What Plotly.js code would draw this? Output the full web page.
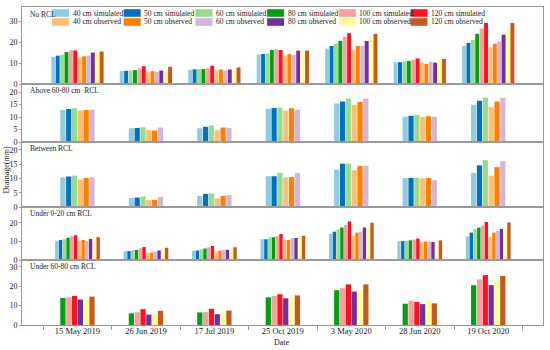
<!DOCTYPE html>
<html><head><meta charset="utf-8">
<script src="https://cdn.plot.ly/plotly-3.0.1.min.js"></script>
<style>html,body{margin:0;padding:0;background:#fff}#chart{width:550px;height:350px}</style>
</head><body><div id="chart"></div>
<script>
// ---------- data ----------
const dates = ['15 May 2019','26 Jun 2019','17 Jul 2019','25 Oct 2019','3 May 2020','28 Jun 2020','19 Oct 2020'];
const seriesNames = ['40 cm simulated','50 cm simulated','60 cm simulated','80 cm simulated','100 cm simulated','120 cm simulated',
                     '40 cm observed','50 cm observed','60 cm observed','80 cm observed','100 cm observed','120 cm observed'];
const seriesColors = ['#8FCBE3','#0070C0','#98DB8C','#00A015','#FF9C9C','#FF1020',
                      '#FFBE73','#FF8000','#D3B4DC','#7030A0','#FFFF99','#C65A1C'];
const panelLabels = ['No RCL','Above 60-80 cm  RCL','Between RCL','Under 0-20 cm RCL','Under 60-80 cm RCL'];

// No RCL
const noRCL_40sim  = [13.0, 6.2, 6.8, 14.0, 16.8, 10.3, 18.1];
const noRCL_50sim  = [13.5, 6.3, 7.0, 14.3, 18.1, 10.4, 19.6];
const noRCL_60sim  = [14.0, 6.5, 7.1, 14.6, 19.2, 10.7, 21.0];
const noRCL_80sim  = [15.2, 6.6, 7.1, 16.2, 20.6, 11.0, 23.9];
const noRCL_100sim = [16.0, 7.4, 7.6, 16.6, 22.5, 11.5, 26.5];
const noRCL_120sim = [16.0, 8.5, 8.7, 16.2, 24.2, 12.2, 29.1];
const noRCL_40obs  = [12.7, 5.6, 6.5, 13.6, 16.3, 10.2, 17.5];
const noRCL_50obs  = [13.2, 6.1, 6.9, 14.2, 18.1,  9.6, 19.2];
const noRCL_60obs  = [13.5, 5.8, 6.5, 13.8, 18.2, 10.6, 20.3];
const noRCL_80obs  = [15.0, 6.4, 6.9, 15.9, 20.5, 10.2, 23.5];
const noRCL_100obs = [15.8, 5.9, 7.0, 16.0, 22.3, 11.5, 26.4];
const noRCL_120obs = [15.5, 8.2, 7.9, 15.9, 23.9, 12.0, 29.1];
// Above 60-80 cm RCL
const above_40sim = [12.8, 5.5, 5.5, 13.3, 15.4, 10.2, 14.9];
const above_50sim = [13.2, 5.6, 6.1, 13.6, 16.2, 10.5, 16.5];
const above_60sim = [13.5, 5.9, 6.6, 13.8, 17.4, 10.8, 17.8];
const above_40obs = [12.6, 4.8, 4.7, 12.6, 14.9, 10.0, 14.0];
const above_50obs = [12.8, 4.6, 5.8, 13.5, 16.0, 10.3, 16.2];
const above_60obs = [13.0, 5.8, 5.7, 12.9, 17.4, 10.1, 17.7];
// Between RCL
const between_40sim = [10.4, 3.2, 3.9, 10.8, 13.1, 10.2, 11.9];
const between_50sim = [10.7, 3.3, 4.6, 10.8, 15.2, 10.2, 14.6];
const between_60sim = [11.0, 3.7, 4.8, 12.0, 15.2, 10.3, 16.4];
const between_40obs = [ 9.7, 2.4, 3.0, 10.4, 12.9, 10.1, 11.0];
const between_50obs = [10.2, 2.5, 3.9, 10.5, 14.4, 10.2, 14.0];
const between_60obs = [10.4, 3.5, 4.2, 11.9, 14.5,  9.4, 16.1];
// Under 0-20 cm RCL
const under020_40sim  = [10.4, 4.7, 5.0, 11.2, 14.2, 10.2, 12.8];
const under020_50sim  = [10.8, 4.8, 5.1, 11.2, 15.3, 10.2, 14.8];
const under020_60sim  = [11.2, 5.2, 5.8, 12.1, 16.5, 10.4, 16.8];
const under020_80sim  = [12.0, 5.4, 6.2, 12.3, 17.5, 10.6, 17.5];
const under020_100sim = [12.8, 6.3, 6.8, 13.0, 18.9, 11.0, 18.6];
const under020_120sim = [13.4, 7.0, 7.6, 14.0, 20.8, 11.6, 20.5];
const under020_40obs  = [10.3, 3.9, 4.7, 11.0, 13.0,  9.9, 12.4];
const under020_50obs  = [10.8, 4.0, 5.0, 10.8, 14.8, 10.0, 14.8];
const under020_60obs  = [10.3, 4.6, 5.5, 11.8, 15.3, 10.0, 15.8];
const under020_80obs  = [11.4, 5.1, 5.5, 11.9, 17.5,  9.7, 16.8];
const under020_100obs = [12.4, 6.2, 6.3, 12.3, 18.0, 10.5, 17.8];
const under020_120obs = [12.3, 6.6, 6.9, 13.1, 20.1, 10.6, 20.3];
// Under 60-80 cm RCL
const under6080_80sim  = [14.0, 6.0, 6.5, 14.3, 18.0, 11.0, 20.6];
const under6080_100sim = [14.3, 6.6, 6.7, 15.0, 19.0, 12.6, 23.5];
const under6080_120sim = [15.0, 8.2, 8.4, 15.9, 21.0, 11.9, 25.8];
const under6080_80obs  = [13.2, 5.4, 5.6, 13.8, 17.3, 10.8, 20.6];
const under6080_100obs = [13.5, 5.8, 6.3, 14.1, 18.5, 12.5, 23.0];
const under6080_120obs = [14.7, 7.3, 7.5, 15.3, 21.0, 11.2, 25.4];

// ---------- panels: [series index, values] ----------
const panelSeries = [
  [[0,noRCL_40sim],[1,noRCL_50sim],[2,noRCL_60sim],[3,noRCL_80sim],[4,noRCL_100sim],[5,noRCL_120sim],
   [6,noRCL_40obs],[7,noRCL_50obs],[8,noRCL_60obs],[9,noRCL_80obs],[10,noRCL_100obs],[11,noRCL_120obs]],
  [[0,above_40sim],[1,above_50sim],[2,above_60sim],[6,above_40obs],[7,above_50obs],[8,above_60obs]],
  [[0,between_40sim],[1,between_50sim],[2,between_60sim],[6,between_40obs],[7,between_50obs],[8,between_60obs]],
  [[0,under020_40sim],[1,under020_50sim],[2,under020_60sim],[3,under020_80sim],[4,under020_100sim],[5,under020_120sim],
   [6,under020_40obs],[7,under020_50obs],[8,under020_60obs],[9,under020_80obs],[10,under020_100obs],[11,under020_120obs]],
  [[3,under6080_80sim],[4,under6080_100sim],[5,under6080_120sim],[9,under6080_80obs],[10,under6080_100obs],[11,under6080_120obs]]
];

// ---------- layout styling ----------
const W = 550, H = 350;
const px = v => v / W, py = v => 1 - v / H;
const panelPix = [[7,84],[84,142],[142,207],[207,260],[260,325]];  // top,bottom in px
const yRanges = [[0,36.7],[0,23.2],[0,22.8],[0,28.6],[0,33.6]];
const yDticks = [10,5,5,10,10];
const groupWidths = [0.77,0.51,0.51,0.66,0.51];
const serif = 'Liberation Serif, Times New Roman, serif';
const xRange = [-0.81, 6.8];
const frameColor = '#9a9a9a';

const traces = [];
panelSeries.forEach((list, p) => {
  const n = list.length, gw = groupWidths[p], pitch = gw / n;
  list.forEach(([si, vals], k) => {
    traces.push({
      type: 'bar', x: dates, y: vals, name: seriesNames[si],
      xaxis: p === 0 ? 'x' : 'x' + (p + 1), yaxis: p === 0 ? 'y' : 'y' + (p + 1),
      marker: {color: seriesColors[si], line: {width: 0}},
      offset: -gw / 2 + k * pitch + pitch * 0.05, width: pitch * 0.9,
      showlegend: false, hoverinfo: 'skip'
    });
  });
});

const layout = {
  width: W, height: H, margin: {l: 0, r: 0, t: 0, b: 0},
  paper_bgcolor: '#fff', plot_bgcolor: '#fff', barmode: 'overlay', showlegend: false,
  font: {family: serif, size: 8, color: '#222'},
  shapes: [], annotations: []
};
panelPix.forEach(([t, b], p) => {
  const xk = p === 0 ? 'xaxis' : 'xaxis' + (p + 1);
  const yk = p === 0 ? 'yaxis' : 'yaxis' + (p + 1);
  const last = p === panelPix.length - 1;
  layout[xk] = {
    type: 'category', domain: [px(22), px(543)], anchor: p === 0 ? 'y' : 'y' + (p + 1),
    range: xRange, showgrid: false, zeroline: false, showline: true, mirror: true,
    linecolor: frameColor, linewidth: 1, tickson: 'boundaries',
    ticks: last ? 'outside' : '', ticklen: 4, tickcolor: frameColor, ticklabelstandoff: -2,
    showticklabels: last, tickfont: {family: serif, size: 8.5, color: '#222'}, automargin: false
  };
  layout[yk] = {
    domain: [py(b), py(t)], anchor: p === 0 ? 'x' : 'x' + (p + 1), range: yRanges[p],
    dtick: yDticks[p], showgrid: false, zeroline: false, showline: true, mirror: true,
    linecolor: frameColor, linewidth: 1, ticks: 'outside', ticklen: 2, tickcolor: frameColor,
    tickfont: {family: serif, size: 8, color: '#222'}, automargin: false
  };
  layout.annotations.push({
    text: panelLabels[p], xref: 'paper', yref: 'paper', x: px(28), y: py(t + (p === 0 ? 8 : 6.5)),
    xanchor: 'left', yanchor: 'middle', showarrow: false, font: {family: serif, size: 7.5, color: '#222'}
  });
});
// axis titles
layout.annotations.push({text: 'Drainage(mm)', xref: 'paper', yref: 'paper', x: px(5.5), y: py(170),
  textangle: -90, showarrow: false, xanchor: 'center', yanchor: 'middle', font: {family: serif, size: 8, color: '#222'}});
layout.annotations.push({text: 'Date', xref: 'paper', yref: 'paper', x: px(282), y: py(342),
  showarrow: false, xanchor: 'center', yanchor: 'middle', font: {family: serif, size: 8, color: '#222'}});
// manual legend: 6 columns x 2 rows
seriesNames.forEach((nm, i) => {
  const col = i % 6, row = Math.floor(i / 6);
  const x0 = 52 + col * 71.7, yc = 13 + row * 9;
  layout.shapes.push({type: 'rect', xref: 'paper', yref: 'paper', x0: px(x0), x1: px(x0 + 17),
    y0: py(yc + 3.8), y1: py(yc - 3.8), fillcolor: seriesColors[i], line: {width: 0}});
  layout.annotations.push({text: nm, xref: 'paper', yref: 'paper', x: px(x0 + 18.5), y: py(yc),
    xanchor: 'left', yanchor: 'middle', showarrow: false, font: {family: serif, size: 7.6, color: '#222'}});
});

Plotly.newPlot('chart', traces, layout, {displayModeBar: false, staticPlot: true});
</script></body></html>
